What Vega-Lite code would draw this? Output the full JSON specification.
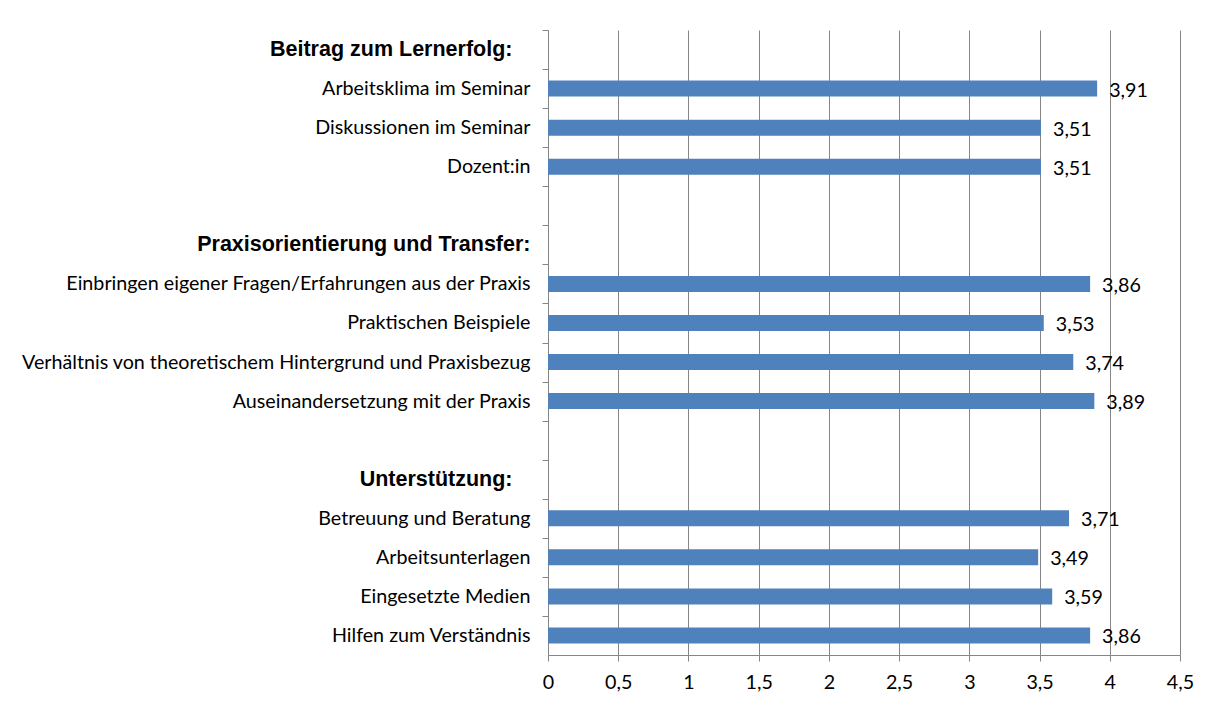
{
  "$schema": "https://vega.github.io/schema/vega-lite/v6.json",
  "autosize": {"type": "none"},
  "padding": {"left": 548, "top": 30, "right": 42, "bottom": 49},
  "width": 632,
  "height": 625,
  "background": "white",
  "config": {
    "view": {"stroke": null},
    "locale": {"number": {"decimal": ",", "thousands": ".", "grouping": [3], "currency": ["", " €"]}}
  },
  "data": {
    "values": [
      {"cat": "Beitrag zum Lernerfolg:", "value": null},
      {"cat": "Arbeitsklima im Seminar", "value": 3.91},
      {"cat": "Diskussionen im Seminar", "value": 3.51},
      {"cat": "Dozent:in", "value": 3.51},
      {"cat": "_blank1", "value": null},
      {"cat": "Praxisorientierung und Transfer:", "value": null},
      {"cat": "Einbringen eigener Fragen/Erfahrungen aus der Praxis", "value": 3.86},
      {"cat": "Praktischen Beispiele", "value": 3.53},
      {"cat": "Verhältnis von theoretischem Hintergrund und Praxisbezug", "value": 3.74},
      {"cat": "Auseinandersetzung mit der Praxis", "value": 3.89},
      {"cat": "_blank2", "value": null},
      {"cat": "Unterstützung:", "value": null},
      {"cat": "Betreuung und Beratung", "value": 3.71},
      {"cat": "Arbeitsunterlagen", "value": 3.49},
      {"cat": "Eingesetzte Medien", "value": 3.59},
      {"cat": "Hilfen zum Verständnis", "value": 3.86}
    ]
  },
  "encoding": {
    "y": {
      "field": "cat",
      "type": "nominal",
      "sort": null,
      "scale": {
        "domain": ["Beitrag zum Lernerfolg:", "Arbeitsklima im Seminar", "Diskussionen im Seminar", "Dozent:in", "_blank1", "Praxisorientierung und Transfer:", "Einbringen eigener Fragen/Erfahrungen aus der Praxis", "Praktischen Beispiele", "Verhältnis von theoretischem Hintergrund und Praxisbezug", "Auseinandersetzung mit der Praxis", "_blank2", "Unterstützung:", "Betreuung und Beratung", "Arbeitsunterlagen", "Eingesetzte Medien", "Hilfen zum Verständnis"],
        "paddingInner": 0,
        "paddingOuter": 0
      },
      "axis": {
        "title": null,
        "grid": false,
        "domainColor": "#868686",
        "tickColor": "#868686",
        "tickSize": 6,
        "tickOffset": -19.53,
        "labelOffset": 19.53,
        "labelPadding": {"condition": {"test": "datum.value === 'Beitrag zum Lernerfolg:' || datum.value === 'Unterstützung:'", "value": 30}, "value": 12},
        "labelExpr": "isString(datum.value) && indexof(datum.value, '_blank') === 0 ? '' : datum.value",
        "labelFont": {"condition": {"test": "isString(datum.value) && slice(datum.value, -1) === ':'", "value": "Liberation Sans"}, "value": "Lato"},
        "labelFontWeight": {"condition": {"test": "isString(datum.value) && slice(datum.value, -1) === ':'", "value": "bold"}, "value": "normal"},
        "labelFontSize": {"condition": {"test": "isString(datum.value) && slice(datum.value, -1) === ':'", "value": 21.5}, "value": 19.7},
        "labelColor": "#000000",
        "labelLimit": 700
      }
    }
  },
  "layer": [
    {
      "mark": {"type": "bar", "color": "#4F81BD", "size": 16},
      "encoding": {
        "x": {
          "field": "value",
          "type": "quantitative",
          "scale": {"domain": [0, 4.5], "nice": false, "zero": true},
          "axis": {
            "title": null,
            "values": [0, 0.5, 1, 1.5, 2, 2.5, 3, 3.5, 4, 4.5],
            "format": "~g",
            "grid": true,
            "gridColor": "#868686",
            "gridOpacity": 1,
            "domainColor": "#868686",
            "tickColor": "#868686",
            "tickSize": 6,
            "labelFont": "Lato",
            "labelFontSize": 19.7,
            "labelColor": "#000000",
            "labelPadding": 11,
            "labelFlush": false
          }
        }
      }
    },
    {
      "mark": {"type": "text", "align": "left", "baseline": "middle", "dx": 12, "dy": 2, "font": "Lato", "fontSize": 19.7, "color": "#000000"},
      "encoding": {
        "x": {"field": "value", "type": "quantitative"},
        "text": {"field": "value", "type": "quantitative", "format": ".2f"}
      }
    }
  ]
}
